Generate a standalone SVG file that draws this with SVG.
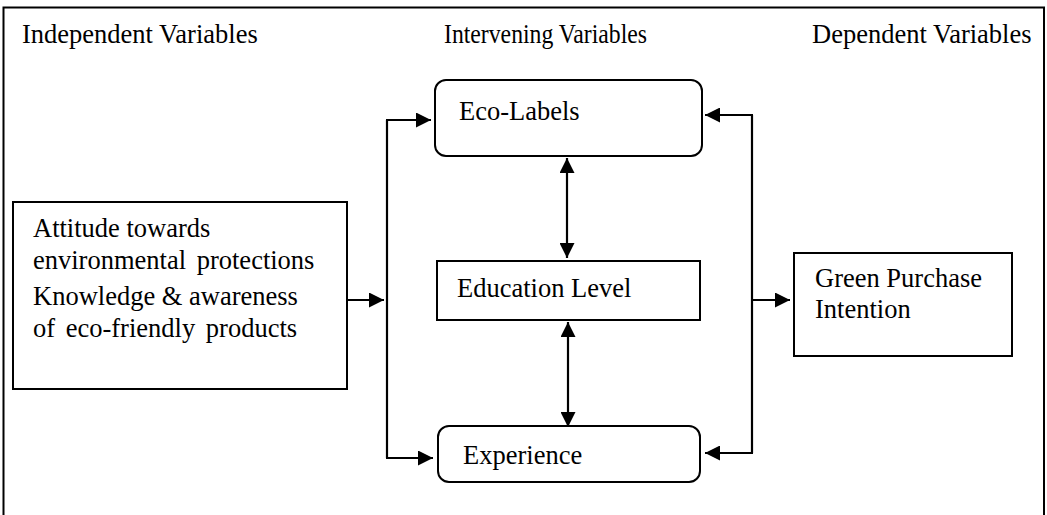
<svg xmlns="http://www.w3.org/2000/svg" width="1047" height="515" viewBox="0 0 1047 515">
<style>
text{font-family:"Liberation Serif","DejaVu Serif",serif;font-size:26.5px;fill:#000}
.box{fill:#fff;stroke:#000;stroke-width:2}
.ln{fill:none;stroke:#000;stroke-width:2.2}
</style>
<defs>
<marker id="ah" viewBox="0 0 10 10" refX="10" refY="5" markerWidth="15" markerHeight="15" markerUnits="userSpaceOnUse" orient="auto-start-reverse">
<path d="M0,0 L10,5 L0,10 Z" fill="#000"/>
</marker>
</defs>
<rect x="3.5" y="7.5" width="1040.5" height="520" fill="#fff" stroke="#000" stroke-width="2"/>
<g id="headers">
<text x="22" y="43">Independent Variables</text>
<text x="444" y="43" textLength="203" lengthAdjust="spacingAndGlyphs">Intervening Variables</text>
<text x="812" y="43">Dependent Variables</text>
</g>
<g id="connectors">
<path class="ln" d="M347,300 H384" marker-end="url(#ah)"/>
<path class="ln" d="M387,120 V458"/>
<path class="ln" d="M386,120 H431" marker-end="url(#ah)"/>
<path class="ln" d="M386,458 H433" marker-end="url(#ah)"/>
<path class="ln" d="M752,115 V453"/>
<path class="ln" d="M753,115 H705" marker-end="url(#ah)"/>
<path class="ln" d="M753,453 H705" marker-end="url(#ah)"/>
<path class="ln" d="M752,300 H790" marker-end="url(#ah)"/>
<path class="ln" d="M567,158 V258" marker-start="url(#ah)" marker-end="url(#ah)"/>
<path class="ln" d="M568,322 V427" marker-start="url(#ah)" marker-end="url(#ah)"/>
</g>
<g id="n-left">
<rect class="box" x="13" y="202" width="334" height="187"/>
<text x="33" y="237">Attitude towards</text>
<text x="33" y="269" word-spacing="4">environmental protections</text>
<text x="33" y="305">Knowledge &amp; awareness</text>
<text x="33" y="337" word-spacing="4">of eco-friendly products</text>
</g>
<g id="n-eco">
<rect class="box" x="435" y="80" width="267" height="76" rx="11"/>
<text x="459" y="120">Eco-Labels</text>
</g>
<g id="n-edu">
<rect class="box" x="437" y="261" width="263" height="59"/>
<text x="457" y="297">Education Level</text>
</g>
<g id="n-exp">
<rect class="box" x="438" y="426" width="262" height="56" rx="11"/>
<text x="463" y="464">Experience</text>
</g>
<g id="n-gpi">
<rect class="box" x="794" y="253" width="218" height="103"/>
<text x="815" y="287">Green Purchase</text>
<text x="815" y="318">Intention</text>
</g>
</svg>
